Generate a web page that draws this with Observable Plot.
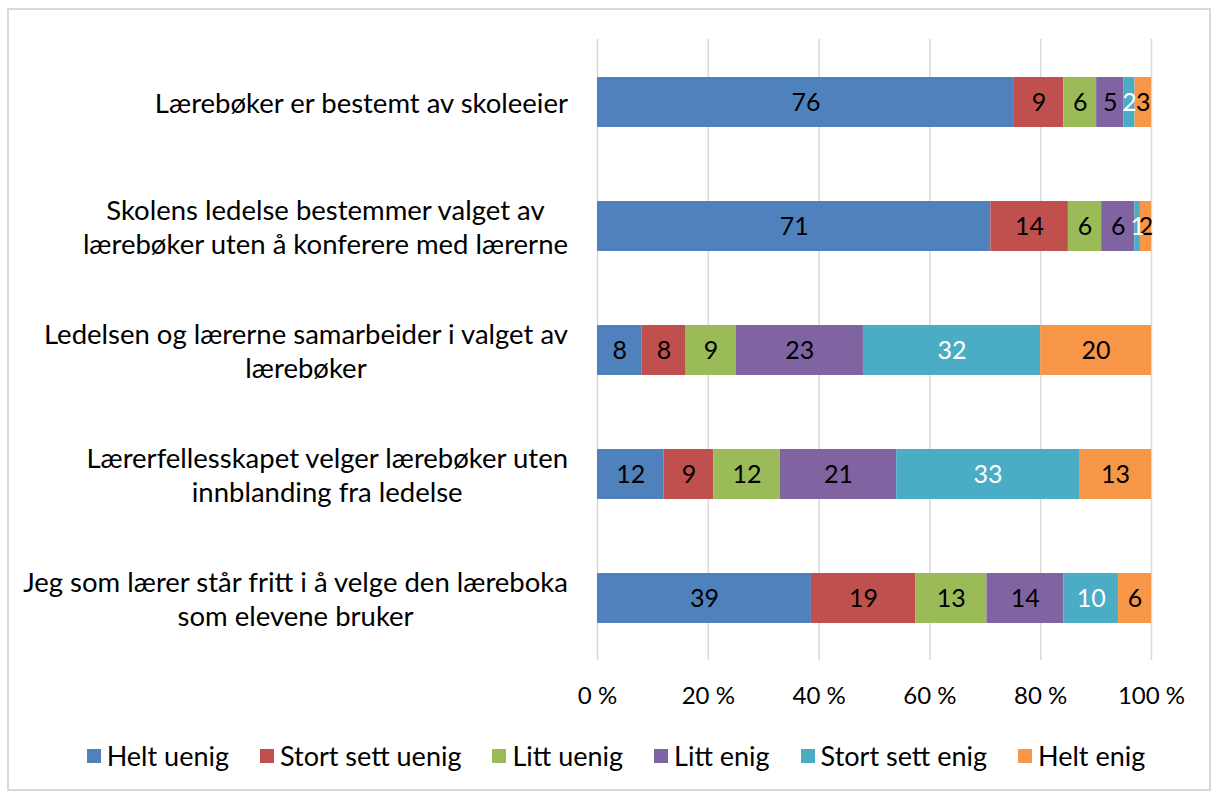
<!DOCTYPE html>
<html><head><meta charset="utf-8">
<script src="https://cdn.jsdelivr.net/npm/d3@7"></script>
<script src="https://cdn.jsdelivr.net/npm/@observablehq/plot@0.6"></script>
<style>
body{margin:0;background:#fff;font-family:Lato,sans-serif;}
#frame{position:absolute;left:7px;top:8px;width:1204px;height:783px;box-sizing:border-box;border:2px solid #d9d9d9;pointer-events:none;}
#chart{position:absolute;left:0;top:0;}
#legend{position:absolute;left:0;top:739px;width:1232px;display:flex;justify-content:center;}
.lg-swatches{font-family:Lato,sans-serif !important;font-size:27px !important;color:#000 !important;margin:0 !important;min-height:0 !important;}
.lg-swatch{margin-right:31px !important;}
.lg-swatch:last-child{margin-right:0 !important;}
.lg-swatch svg{margin-right:6px !important;}
</style>
</head><body>
<div id="chart"></div>
<div id="legend"></div>
<div id="frame"></div>
<script>
const categories = [
  "Lærebøker er bestemt av skoleeier",
  "Skolens ledelse bestemmer valget av\nlærebøker uten å konferere med lærerne",
  "Ledelsen og lærerne samarbeider i valget av\nlærebøker",
  "Lærerfellesskapet velger lærebøker uten\ninnblanding fra ledelse",
  "Jeg som lærer står fritt i å velge den læreboka\nsom elevene bruker"
];
const series = ["Helt uenig", "Stort sett uenig", "Litt uenig", "Litt enig", "Stort sett enig", "Helt enig"];
const colors = ["#4F81BD", "#C0504D", "#9BBB59", "#8064A2", "#4BACC6", "#F79646"];
const heltUenig = [76, 71, 8, 12, 39];
const stortSettUenig = [9, 14, 8, 9, 19];
const littUenig = [6, 6, 9, 12, 13];
const littEnig = [5, 6, 23, 21, 14];
const stortSettEnig = [2, 1, 32, 33, 10];
const heltEnig = [3, 2, 20, 13, 6];
const xTicks = [0, 0.2, 0.4, 0.6, 0.8, 1];
const whiteLabelSeries = "Stort sett enig";

const seriesValues = [heltUenig, stortSettUenig, littUenig, littEnig, stortSettEnig, heltEnig];
const data = [];
categories.forEach((c, i) => {
  series.forEach((s, j) => data.push({category: c, series: s, value: seriesValues[j][i]}));
});

const stackOpts = {x: "value", y: "category", z: "series", offset: "normalize", order: null};

const svg = Plot.plot({
  width: 1212,
  height: 720,
  marginLeft: 597,
  marginRight: 61,
  marginTop: 39,
  marginBottom: 60,
  style: {fontFamily: "Lato, sans-serif", fontSize: "26px", color: "#000", background: "transparent"},
  x: {domain: [0, 1], ticks: xTicks, tickFormat: d => Math.round(d * 100) + " %"},
  y: {domain: categories, paddingInner: 0.6, paddingOuter: 0.3},
  color: {domain: series, range: colors},
  marks: [
    Plot.gridX(xTicks, {stroke: "#d9d9d9", strokeOpacity: 1, strokeWidth: 1.5}),
    Plot.barX(data, Plot.stackX({...stackOpts, fill: "series"})),
    Plot.text(data, Plot.stackX({...stackOpts, text: d => d.series === whiteLabelSeries ? "" : String(d.value), fill: "black", fontSize: 25})),
    Plot.text(data, Plot.stackX({...stackOpts, text: d => d.series === whiteLabelSeries ? String(d.value) : "", fill: "white", fontSize: 25})),
    Plot.axisX({ticks: xTicks, tickFormat: d => Math.round(d * 100) + " %", tickSize: 0, tickPadding: 26, fontSize: 24, label: null}),
    Plot.axisY({tickSize: 0, tickPadding: 0, textAnchor: "middle", lineHeight: 1.22, fontSize: 27.5, label: null})
  ]
});
document.getElementById("chart").append(svg);

// center multi-line y labels, right edge at the label column
const rightEdge = 568;
svg.querySelectorAll('g[aria-label="y-axis tick label"] text').forEach(t => {
  const r = t.getBoundingClientRect();
  const desired = rightEdge - r.width / 2;
  const shift = desired - (r.left + r.width / 2);
  t.setAttribute("transform", (t.getAttribute("transform") || "") + ` translate(${shift},0)`);
});

const legend = Plot.legend({
  color: {domain: series, range: colors},
  legend: "swatches",
  swatchSize: 14,
  className: "lg"
});
document.getElementById("legend").append(legend);
</script>
</body></html>
